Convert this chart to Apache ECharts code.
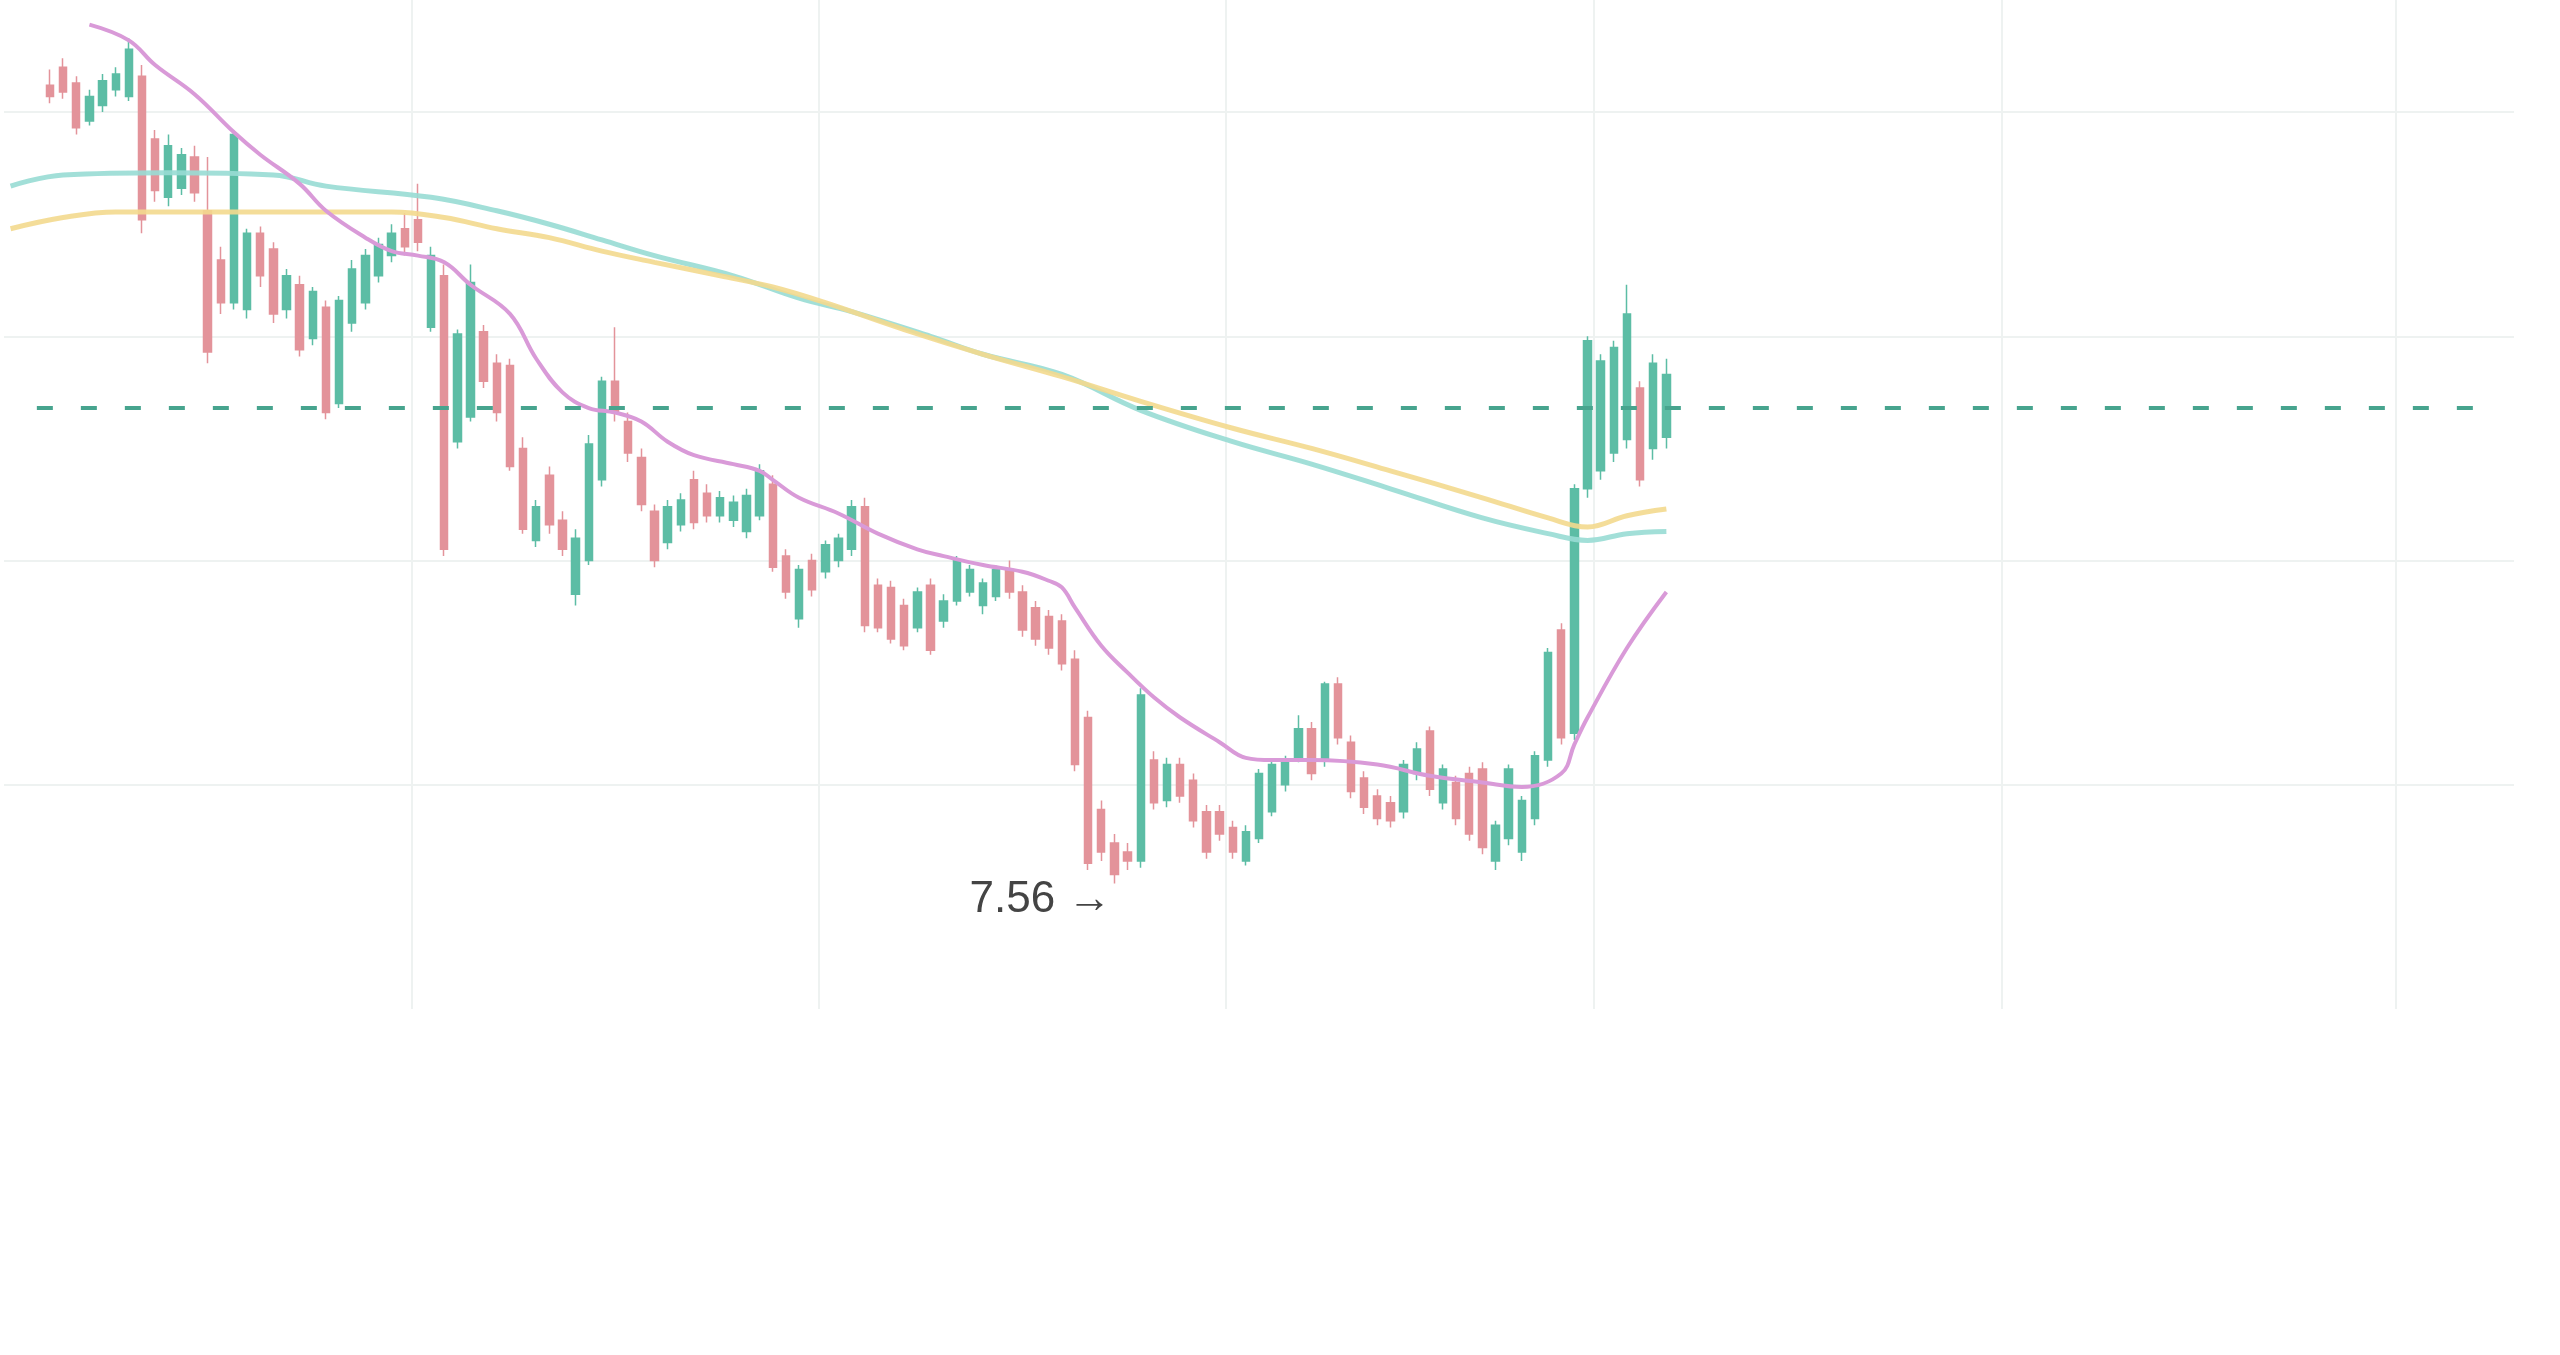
<!DOCTYPE html>
<html>
<head>
<meta charset="utf-8">
<style>
html,body{margin:0;padding:0;background:#ffffff;}
#chart{width:2560px;height:1355px;}
</style>
<script src="https://cdn.jsdelivr.net/npm/echarts@6/dist/echarts.min.js"></script>
</head>
<body>
<div id="chart"></div>
<script>
// ---- categories (one per calendar day) ----
const startYear = 2022, startMonth = 9, startDay = 31; // 2022-10-31
const dayCount = 191;

// ---- candles (first candle sits at category index firstCandle) ----
const firstCandle = 3;
const opens = [11.12,11.20,11.13,10.96,11.03,11.10,11.07,11.16,10.88,10.62,10.66,10.80,10.56,10.34,10.15,10.12,10.46,10.39,10.12,10.23,9.99,10.13,9.70,10.06,10.15,10.27,10.36,10.48,10.52,10.04,10.27,9.53,9.64,10.02,9.88,9.87,9.50,9.09,9.38,9.18,8.85,9.00,9.36,9.80,9.62,9.46,9.22,9.08,9.16,9.36,9.30,9.20,9.18,9.13,9.20,9.34,9.02,8.74,9.00,8.95,9.00,9.05,9.24,8.89,8.88,8.80,8.70,8.89,8.73,8.82,8.86,8.80,8.84,8.96,8.86,8.79,8.75,8.73,8.56,8.30,7.89,7.74,7.70,7.66,8.11,7.93,8.09,8.02,7.88,7.88,7.81,7.66,7.76,7.88,8.00,8.12,8.25,8.11,8.45,8.19,8.03,7.95,7.92,7.88,8.05,8.24,7.92,8.01,8.05,8.07,7.66,7.76,7.70,7.85,8.11,8.69,8.23,9.32,9.40,9.48,9.54,9.77,9.50,9.55];
const highs = [11.19,11.24,11.16,11.10,11.17,11.20,11.33,11.21,10.92,10.90,10.84,10.85,10.80,10.40,10.92,10.48,10.49,10.42,10.30,10.27,10.22,10.16,10.18,10.34,10.39,10.44,10.50,10.55,10.68,10.40,10.32,10.03,10.32,10.05,9.92,9.90,9.55,9.27,9.42,9.22,9.14,9.56,9.82,10.04,9.66,9.50,9.25,9.27,9.30,9.40,9.34,9.31,9.29,9.32,9.43,9.38,9.05,8.98,9.03,9.09,9.12,9.27,9.28,8.92,8.91,8.83,8.88,8.92,8.85,9.02,8.98,8.92,8.98,9.00,8.89,8.82,8.78,8.76,8.60,8.33,7.93,7.78,7.74,8.43,8.15,8.12,8.12,8.05,7.91,7.91,7.84,7.82,8.07,8.11,8.13,8.31,8.28,8.46,8.48,8.22,8.06,7.98,7.95,8.11,8.19,8.26,8.09,8.04,8.08,8.10,7.84,8.09,7.95,8.15,8.61,8.72,9.34,10.00,9.92,9.98,10.23,9.80,9.92,9.90];
const lows = [11.04,11.06,10.90,10.94,11.00,11.07,11.05,10.46,10.60,10.58,10.63,10.60,9.88,10.10,10.12,10.08,10.22,10.06,10.08,9.91,9.96,9.63,9.68,10.02,10.12,10.24,10.33,10.36,10.38,10.02,9.02,9.50,9.62,9.77,9.62,9.40,9.12,9.06,9.12,9.02,8.80,8.98,9.33,9.62,9.44,9.22,8.97,9.05,9.13,9.14,9.17,9.17,9.15,9.10,9.18,8.95,8.83,8.70,8.84,8.92,8.97,9.02,8.68,8.68,8.63,8.60,8.68,8.58,8.70,8.80,8.84,8.76,8.82,8.83,8.66,8.62,8.58,8.51,8.06,7.62,7.66,7.56,7.62,7.63,7.89,7.90,7.92,7.81,7.67,7.75,7.67,7.64,7.74,7.86,7.97,8.10,8.02,8.08,8.18,7.94,7.87,7.82,7.81,7.85,8.02,7.95,7.89,7.82,7.75,7.69,7.62,7.73,7.66,7.82,8.08,8.18,8.20,9.28,9.36,9.44,9.50,9.33,9.45,9.50];
const closes = [11.07,11.09,10.93,11.07,11.14,11.17,11.28,10.52,10.65,10.85,10.81,10.64,9.93,10.15,10.90,10.46,10.27,10.10,10.27,9.94,10.20,9.66,10.16,10.30,10.36,10.41,10.46,10.40,10.42,10.36,9.05,10.01,10.24,9.80,9.66,9.42,9.14,9.24,9.16,9.05,9.10,9.52,9.80,9.66,9.48,9.25,9.00,9.24,9.27,9.17,9.20,9.28,9.26,9.29,9.40,8.97,8.86,8.96,8.87,9.07,9.10,9.24,8.71,8.70,8.65,8.62,8.86,8.60,8.82,9.00,8.96,8.90,8.96,8.86,8.69,8.65,8.61,8.54,8.09,7.65,7.70,7.60,7.66,8.40,7.92,8.09,7.95,7.84,7.70,7.78,7.70,7.79,8.05,8.09,8.10,8.25,8.05,8.45,8.21,7.97,7.90,7.85,7.84,8.09,8.16,7.98,8.07,7.85,7.78,7.72,7.82,8.07,7.93,8.13,8.59,8.21,9.32,9.98,9.89,9.95,10.10,9.36,9.88,9.83];

// ---- moving averages, read as [category index, value] ----
const maPink = [[6,11.39],[9,11.32],[11,11.21],[14,11.08],[17,10.91],[19,10.81],[22,10.68],[24,10.56],[27,10.44],[29,10.38],[31,10.36],[33,10.33],[35,10.23],[38,10.10],[40,9.90],[42,9.75],[44,9.68],[46,9.66],[48,9.62],[50,9.53],[52,9.47],[55,9.43],[57,9.40],[58,9.36],[60,9.28],[63,9.21],[66,9.12],[69,9.05],[71,9.02],[74,8.98],[77,8.95],[79,8.91],[80,8.88],[81,8.79],[83,8.62],[85,8.50],[87,8.39],[89,8.30],[92,8.19],[94,8.12],[96,8.11],[99,8.11],[104,8.09],[108,8.04],[112,8.01],[115,7.99],[118,8.05],[119,8.18],[120,8.30],[123,8.61],[126,8.86]];
const maTeal = [[0,10.67],[4,10.72],[12,10.73],[20,10.72],[24,10.67],[32,10.62],[37,10.56],[41,10.50],[45,10.43],[49,10.36],[55,10.27],[60,10.17],[64,10.11],[70,10.00],[74,9.92],[80,9.83],[86,9.67],[93,9.53],[99,9.43],[105,9.32],[112,9.19],[117,9.12],[120,9.09],[123,9.12],[126,9.13]];
const maYellow = [[0,10.48],[4,10.53],[8,10.555],[29,10.555],[33,10.53],[37,10.48],[41,10.44],[45,10.38],[49,10.33],[54,10.27],[58,10.22],[62,10.15],[68,10.03],[74,9.92],[80,9.82],[86,9.71],[93,9.59],[99,9.50],[105,9.40],[112,9.28],[117,9.19],[120,9.15],[123,9.20],[126,9.23]];

// ---- reference level & low marker ----
const levelValue = 9.68;
const levelFrom = 2, levelTo = 189;
const lowIndex = 84, lowValue = 7.56;

// ---- value axis ----
const yMin = 7, yMax = 11.5, yInterval = 1;

// build categories
const dates = [];
for (let i = 0; i < dayCount; i++) {
  const dt = new Date(Date.UTC(startYear, startMonth, startDay + i));
  dates.push(dt.toISOString().slice(0, 10));
}
const candleData = [];
for (let i = 0; i < firstCandle; i++) candleData.push('-');
for (let k = 0; k < opens.length; k++) candleData.push([opens[k], closes[k], lows[k], highs[k]]);
const toLine = arr => arr.map(p => [dates[p[0]], p[1]]);

const chart = echarts.init(document.getElementById('chart'), null, {renderer: 'canvas'});
chart.setOption({
  animation: false,
  backgroundColor: '#ffffff',
  grid: {left: 4, right: 46, top: -6, bottom: 346},
  xAxis: {
    type: 'category',
    data: dates,
    boundaryGap: true,
    axisLine: {show: false},
    axisTick: {show: false},
    axisLabel: {show: false},
    splitLine: {
      show: true,
      showMinLine: false,
      showMaxLine: false,
      interval: (idx, val) => typeof val === 'string' && val.slice(8) === '01',
      lineStyle: {color: '#eef2f1', width: 2}
    }
  },
  yAxis: {
    type: 'value',
    min: yMin, max: yMax, interval: yInterval,
    axisLine: {show: false},
    axisTick: {show: false},
    axisLabel: {show: false},
    splitLine: {show: true, showMinLine: false, showMaxLine: false, lineStyle: {color: '#eef2f1', width: 2}}
  },
  series: [
    {
      type: 'candlestick',
      data: candleData,
      barWidth: '60%',
      itemStyle: {color: '#5cbda5', color0: '#e3939a', borderColor: '#5cbda5', borderColor0: '#e3939a', borderWidth: 1.5},
      markLine: {
        silent: true,
        symbol: ['none', 'none'],
        label: {show: false},
        lineStyle: {color: '#47a48e', width: 4, type: [16, 28]},
        data: [[{coord: [dates[levelFrom], levelValue]}, {coord: [dates[levelTo], levelValue]}]]
      },
      markPoint: {
        silent: true,
        symbol: 'circle',
        symbolSize: 2,
        itemStyle: {color: 'rgba(0,0,0,0)'},
        label: {
          show: true, position: 'left', distance: 2, offset: [0, 16],
          fontSize: 44, color: '#444444', fontFamily: 'Liberation Sans, Arial, sans-serif',
          formatter: p => p.value.toFixed(2) + ' \u2192'
        },
        data: [{coord: [dates[lowIndex], lowValue], value: lowValue}]
      }
    },
    {
      type: 'line', data: toLine(maTeal), smooth: 0.4, showSymbol: false, silent: true,
      lineStyle: {color: '#98dcd4', width: 5, opacity: 0.9}
    },
    {
      type: 'line', data: toLine(maYellow), smooth: 0.4, showSymbol: false, silent: true,
      lineStyle: {color: '#f3d98e', width: 5, opacity: 0.9}
    },
    {
      type: 'line', data: toLine(maPink), smooth: 0.4, showSymbol: false, silent: true,
      lineStyle: {color: '#d99ad8', width: 4}
    }
  ]
});
</script>
</body>
</html>
